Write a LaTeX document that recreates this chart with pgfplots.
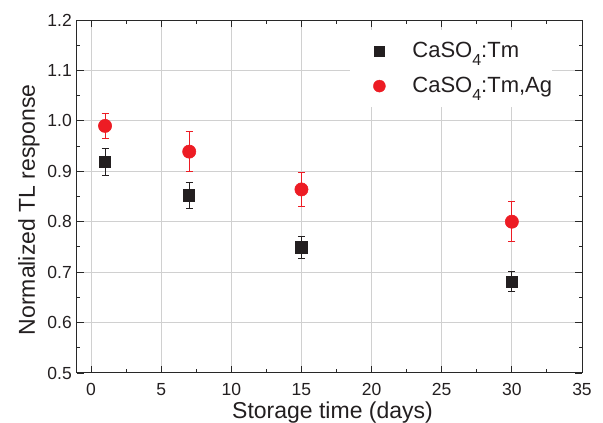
\documentclass[border=0pt]{standalone}
\usepackage{fontspec}
\setmainfont{Liberation Sans}
\usepackage{pgfplots}
\usepackage{pgfplotstable}
\pgfplotsset{compat=1.18}

\definecolor{tmblack}{RGB}{35,31,32}
\definecolor{agred}{RGB}{237,28,36}
\definecolor{gridgray}{RGB}{208,208,208}
\definecolor{axisgray}{RGB}{40,40,40}

% chemical-formula subscript, set low as in the legend
\newcommand{\lowsub}[1]{\raisebox{-8pt}{\fontsize{16}{16}\selectfont #1}}

% storage time (days), normalized TL response, error
\pgfplotstableread{
x  y      e
1  0.919  0.027
7  0.852  0.026
15 0.749  0.022
30 0.681  0.020
}\tmdata
\pgfplotstableread{
x  y      e
1  0.990  0.024
7  0.939  0.040
15 0.864  0.033
30 0.800  0.040
}\agdata

\begin{document}
\begin{tikzpicture}
\begin{axis}[
  scale only axis,
  width=505pt, height=353pt,
  xmin=-1, xmax=35, ymin=0.5, ymax=1.2,
  xtick={0,5,10,15,20,25,30,35},
  ytick={0.5,0.6,0.7,0.8,0.9,1.0,1.1,1.2},
  minor x tick num=1, minor y tick num=1,
  tick align=inside, tick pos=both,
  major tick length=7pt, minor tick length=3.5pt,
  every tick/.style={axisgray, line width=0.9pt},
  axis line style={axisgray, line width=1pt},
  grid=major,
  major grid style={gridgray, line width=1pt},
  /pgf/number format/assume math mode=true,
  yticklabel style={/pgf/number format/fixed, /pgf/number format/fixed zerofill,
    /pgf/number format/precision=1},
  ticklabel style={font=\fontsize{17.5}{20}\selectfont, text=tmblack},
  xticklabel style={anchor=base, yshift=-23pt, inner sep=0pt},
  yticklabel style={anchor=east, xshift=-5pt, inner sep=0pt},
  xlabel={Storage time (days)},
  ylabel={Normalized TL response},
  label style={font=\fontsize{23}{26}\selectfont, text=tmblack, inner sep=0pt},
  xlabel style={at={(axis description cs:0.506,-0.1275)}, anchor=base},
  ylabel style={at={(axis description cs:-0.0832,0.462)}, anchor=base},
  legend style={
    at={(axis description cs:0.541,0.972)}, anchor=north west,
    draw=none, fill=white, inner xsep=0pt, inner ysep=10pt,
    font=\fontsize{22}{26}\selectfont, text=tmblack,
    nodes={inner sep=0pt, text height=17pt, text depth=5pt},
    row sep=13pt, column sep=0pt,
  },
  legend cell align=left,
  legend image code/.code={
    \path[draw=none, fill=none] (0pt,0pt) rectangle (62pt,0pt);
    \path[#1, draw=none] plot[only marks] coordinates {(29pt,0pt)};
  },
]
\coordinate (sw) at (rel axis cs:0,0);

\addplot[only marks, mark=square*, mark size=5.6pt, draw=tmblack, fill=tmblack,
  mark options={draw=tmblack, fill=tmblack, line width=0.8pt},
  forget plot,
  error bars/.cd, y dir=both, y explicit,
  error bar style={tmblack, line width=0.8pt},
  error mark options={rotate=90, mark size=3.5pt, tmblack, line width=0.8pt}]
  table[x=x, y=y, y error=e] {\tmdata};

\addplot[only marks, mark=*, mark size=6.6pt, draw=agred, fill=agred,
  mark options={draw=agred, fill=agred, line width=0.6pt},
  forget plot,
  error bars/.cd, y dir=both, y explicit,
  error bar style={agred, line width=0.8pt},
  error mark options={rotate=90, mark size=3.5pt, agred, line width=0.8pt}]
  table[x=x, y=y, y error=e] {\agdata};

\addlegendimage{only marks, mark=square*, mark size=5pt,
  mark options={draw=tmblack, fill=tmblack}}
\addlegendentry{CaSO\lowsub{4}:Tm}
\addlegendimage{only marks, mark=*, mark size=6pt,
  mark options={draw=agred, fill=agred}}
\addlegendentry{CaSO\lowsub{4}:Tm,Ag}
\end{axis}
\path (sw) ++(-77pt,-49pt) rectangle ++(603pt,422pt);
\end{tikzpicture}
\end{document}
